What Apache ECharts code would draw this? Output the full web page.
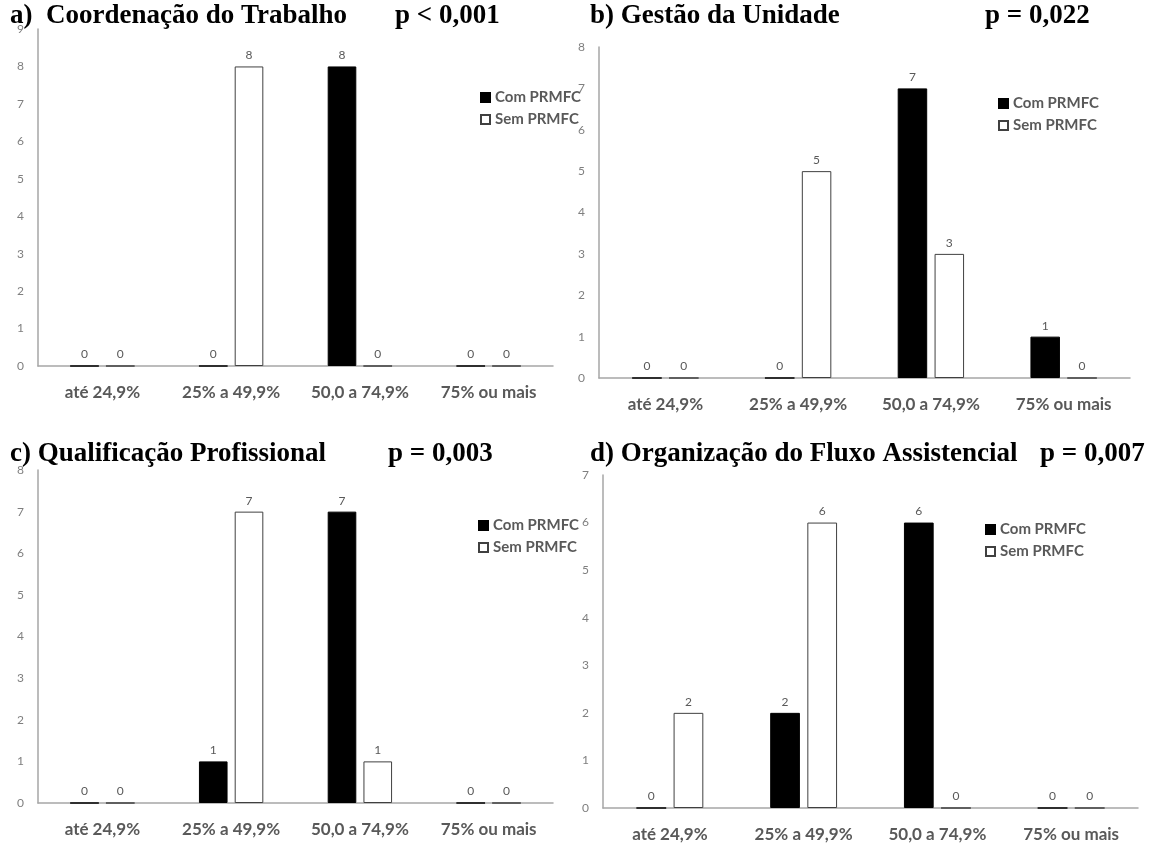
<!DOCTYPE html>
<html>
<head>
<meta charset="utf-8">
<script src="https://cdn.jsdelivr.net/npm/echarts@6/dist/echarts.min.js"></script>
<style>
  html, body { margin: 0; padding: 0; background: #fff; }
  #chart { width: 1156px; height: 844px; }
</style>
</head>
<body>
<div id="chart"></div>
<script>
// Faixas de escore (categorias do eixo x)
const categorias = ['até 24,9%', '25% a 49,9%', '50,0 a 74,9%', '75% ou mais'];
const seriesNomes = ['Com PRMFC', 'Sem PRMFC'];

// Títulos e valores de p de cada painel
const titulos = ['a)  Coordenação do Trabalho', 'b) Gestão da Unidade', 'c) Qualificação Profissional', 'd) Organização do Fluxo Assistencial'];
const valoresP = ['p < 0,001', 'p = 0,022', 'p = 0,003', 'p = 0,007'];

// Máximo do eixo y de cada painel
const eixoMax = [9, 8, 8, 7];

// Contagens por painel
const coordComPRMFC = [0, 0, 8, 0];
const coordSemPRMFC = [0, 8, 0, 0];
const gestaoComPRMFC = [0, 0, 7, 1];
const gestaoSemPRMFC = [0, 5, 3, 0];
const qualifComPRMFC = [0, 1, 7, 0];
const qualifSemPRMFC = [0, 7, 1, 0];
const fluxoComPRMFC = [0, 2, 6, 0];
const fluxoSemPRMFC = [2, 6, 0, 0];

const dadosCom = [coordComPRMFC, gestaoComPRMFC, qualifComPRMFC, fluxoComPRMFC];
const dadosSem = [coordSemPRMFC, gestaoSemPRMFC, qualifSemPRMFC, fluxoSemPRMFC];

// Posição de cada painel (área de plotagem), título e legenda
const grades = [
  { left: 38, top: 29, width: 515, height: 337 },
  { left: 599, top: 47, width: 531, height: 331 },
  { left: 38, top: 470, width: 515, height: 333 },
  { left: 603, top: 475, width: 535, height: 333 }
];
const posTitulo = [[10, 3], [590, 3], [10, 441], [590, 441]];
const posP = [[395, 3], [985, 3], [388, 441], [1040, 441]];
const posLegenda = [[475, 85], [993, 91], [473, 513], [980, 517]];

const cinzaEixo = '#a6a6a6';
const cinzaTexto = '#7f7f7f';
const fonteTitulo = 'Liberation Serif, Times New Roman, serif';
const fonteEixo = 'Lato, Open Sans, sans-serif';

const option = {
  backgroundColor: '#ffffff',
  animation: false,
  title: [],
  legend: [],
  grid: [],
  xAxis: [],
  yAxis: [],
  series: []
};

for (let i = 0; i < 4; i++) {
  const estiloTitulo = { fontFamily: fonteTitulo, fontWeight: 'bold', fontSize: 27, color: '#000' };
  option.title.push({ text: titulos[i], left: posTitulo[i][0], top: posTitulo[i][1], padding: 0, textStyle: estiloTitulo });
  option.title.push({ text: valoresP[i], left: posP[i][0], top: posP[i][1], padding: 0, textStyle: estiloTitulo });
  option.legend.push({
    orient: 'vertical', left: posLegenda[i][0], top: posLegenda[i][1],
    itemWidth: 9, itemHeight: 9, itemGap: 7,
    icon: 'rect',
    data: seriesNomes,
    selectedMode: false,
    textStyle: { fontFamily: fonteEixo, fontWeight: 'bold', fontSize: 15, color: '#595959' }
  });
  option.grid.push(Object.assign({ containLabel: false }, grades[i]));
  option.xAxis.push({
    type: 'category', gridIndex: i, data: categorias,
    axisLine: { lineStyle: { color: cinzaEixo, width: 1.5 } },
    axisTick: { show: false },
    axisLabel: { margin: 18, fontFamily: fonteEixo, fontWeight: 'bold', fontSize: 17, color: '#595959' }
  });
  option.yAxis.push({
    type: 'value', gridIndex: i, min: 0, max: eixoMax[i], interval: 1,
    axisLine: { show: true, lineStyle: { color: cinzaEixo, width: 1.5 } },
    axisTick: { show: false },
    splitLine: { show: false },
    axisLabel: { margin: 14, fontFamily: fonteEixo, fontSize: 12, color: cinzaTexto, showMaxLabel: true }
  });
  const rotulo = { show: true, position: 'top', distance: 5, fontFamily: fonteEixo, fontSize: 12, color: '#595959' };
  option.series.push({
    name: seriesNomes[0], type: 'bar', xAxisIndex: i, yAxisIndex: i,
    data: dadosCom[i], barCategoryGap: '50%', barGap: '25%',
    itemStyle: { color: '#000000', borderColor: '#000000', borderWidth: 1 },
    label: rotulo
  });
  option.series.push({
    name: seriesNomes[1], type: 'bar', xAxisIndex: i, yAxisIndex: i,
    data: dadosSem[i], barCategoryGap: '50%', barGap: '25%',
    itemStyle: { color: '#ffffff', borderColor: '#404040', borderWidth: 1 },
    label: rotulo
  });
}

const grafico = echarts.init(document.getElementById('chart'), null, { renderer: 'canvas' });
grafico.setOption(option);
</script>
</body>
</html>
